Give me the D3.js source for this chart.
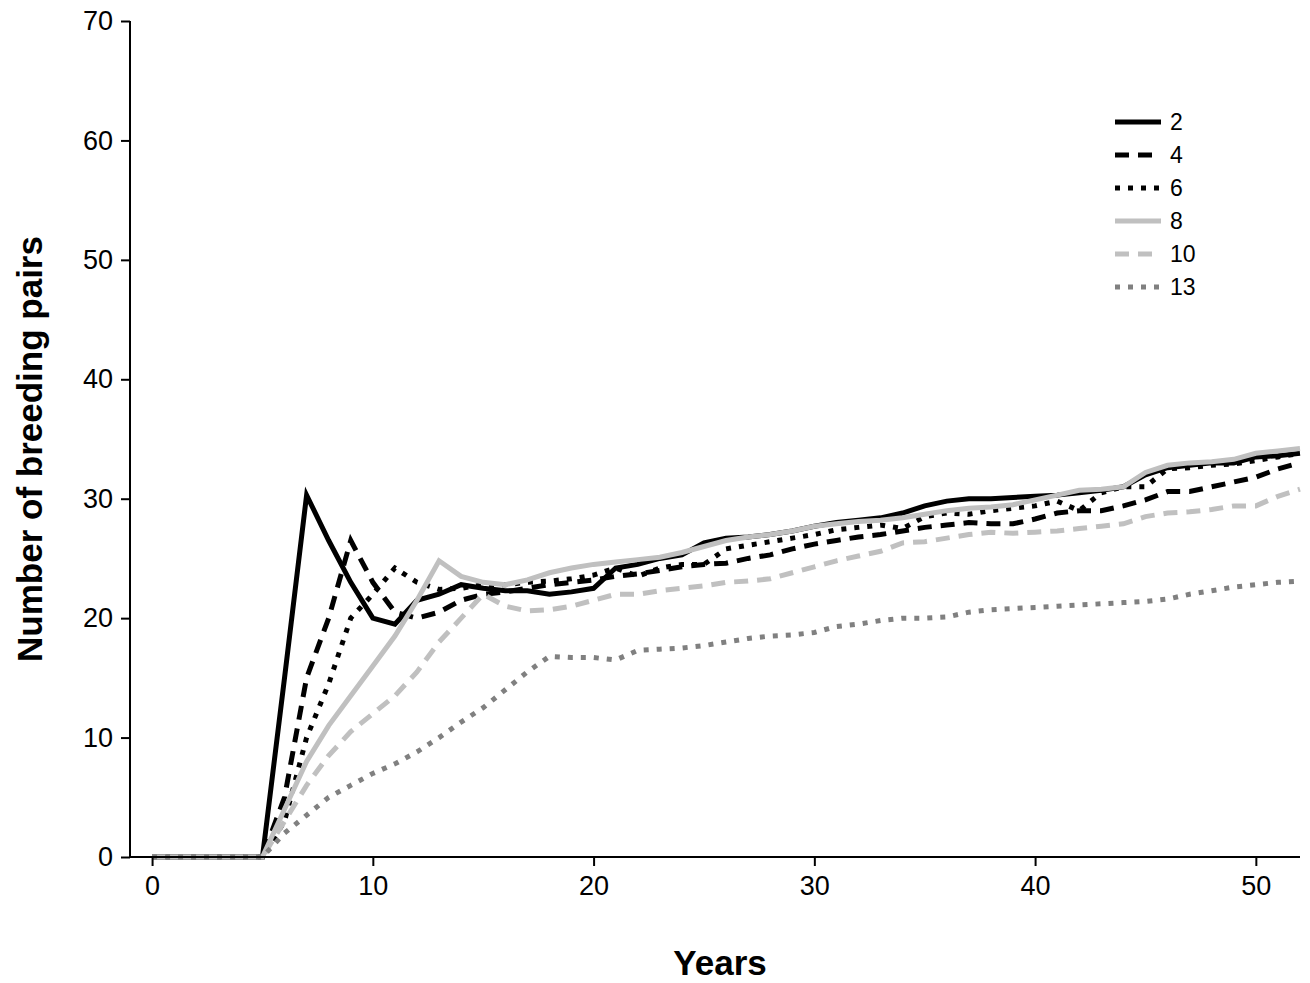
<!DOCTYPE html>
<html><head><meta charset="utf-8">
<script src="https://cdn.jsdelivr.net/npm/d3@7"></script>
<style>body{margin:0;background:#fff}svg{font-family:"Liberation Sans",Arial,sans-serif}</style>
</head><body><svg id="c" width="1310" height="983"></svg>
<script>
var years = d3.range(0, 53);
var z = [0,0,0,0,0,0];
var s2  = z.concat([15,30.3,26.5,23,20,19.5,21.5,22,22.8,22.5,22.3,22.3,22,22.2,22.5,24.2,24.5,25,25.3,26.3,26.7,26.8,27,27.3,27.7,28,28.2,28.4,28.8,29.4,29.8,30,30,30.1,30.2,30.3,30.5,30.7,31,32,32.6,32.8,33,33,33.5,33.6,33.8]);
var s4  = z.concat([5,15,20,26.5,23,20.5,20,20.5,21.5,22,22.2,22.5,22.8,23,23.2,23.5,23.7,24,24.3,24.5,24.6,25,25.3,25.8,26.2,26.5,26.8,27,27.3,27.6,27.8,28,27.9,27.9,28.3,28.8,29,29,29.4,29.9,30.6,30.6,31,31.4,31.8,32.5,33]);
var s6  = z.concat([3,10,14.5,20,22,24.2,23,22.4,22.5,22.8,22.8,23,23.1,23.3,23.6,24.2,23.5,24.2,24.5,24.5,25.8,26.1,26.4,26.7,27,27.4,27.6,27.8,27.5,28.5,28.8,28.7,29,29.2,29.4,29.8,29,30.5,31,31,32.5,32.6,32.8,32.9,33.2,33.5,33.8]);
var s8  = z.concat([4,8,11,13.5,16,18.5,21.5,24.8,23.5,23,22.8,23.2,23.8,24.2,24.5,24.7,24.9,25.1,25.5,26,26.5,26.8,27,27.3,27.7,27.9,28.1,28.2,28.4,28.7,29,29.2,29.3,29.5,29.9,30.3,30.7,30.8,31,32.2,32.8,33,33.1,33.3,33.8,34,34.2]);
var s10 = z.concat([3,6,8.5,10.5,12,13.5,15.5,18,20,22,21,20.6,20.7,21,21.5,22,22,22.3,22.5,22.7,23,23.1,23.3,23.8,24.3,24.8,25.2,25.6,26.3,26.4,26.7,27,27.2,27.1,27.2,27.3,27.5,27.7,27.9,28.5,28.8,28.9,29.1,29.4,29.4,30.2,30.8]);
var s13 = z.concat([2,3.5,5,6,7,7.8,8.8,10,11.3,12.5,14,15.5,16.8,16.7,16.7,16.5,17.3,17.4,17.5,17.7,18,18.3,18.5,18.6,18.8,19.3,19.5,19.8,20,20,20.1,20.5,20.7,20.8,20.9,21,21.1,21.2,21.3,21.4,21.6,22,22.3,22.6,22.8,23,23.1]);
var seriesNames = ["2","4","6","8","10","13"];
var seriesValues = [s2,s4,s6,s8,s10,s13];
var seriesColors = ["#000","#000","#000","#c0c0c0","#c0c0c0","#808080"];
var seriesDash = [null,"14,9","5,8",null,"14,9","5,8"];
var xTicks = [0,10,20,30,40,50];
var yTicks = [0,10,20,30,40,50,60,70];

var svg = d3.select("#c");
var L = 130, R = 1300, T = 21, B = 857;
var x = d3.scaleLinear().domain([-1, 52]).range([L, R]);
var y = d3.scaleLinear().domain([0, 70]).range([B, T]);

var line = d3.line().x(function(d, i) { return x(years[i]); }).y(function(d) { return y(d); });
seriesValues.forEach(function(v, k) {
  svg.append("path").datum(v)
    .attr("d", line).attr("fill", "none")
    .attr("stroke", seriesColors[k]).attr("stroke-width", 5)
    .attr("stroke-dasharray", seriesDash[k]);
});

var ya = svg.append("g").attr("transform", "translate(" + L + ",0)")
  .call(d3.axisLeft(y).tickValues(yTicks).tickSize(9).tickPadding(8));
var xa = svg.append("g").attr("transform", "translate(0," + B + ")")
  .call(d3.axisBottom(x).tickValues(xTicks).tickSize(9).tickPadding(10));
[ya, xa].forEach(function(a) {
  a.attr("font-size", 27).attr("font-family", null);
  a.selectAll("path,line").attr("stroke", "#000").attr("stroke-width", 2);
  a.selectAll("text").attr("fill", "#000");
  a.select(".domain").attr("d", a === ya ? "M0," + T + "V" + B : "M" + L + ",0H" + R);
});

svg.append("text").attr("x", (L + R) / 2 + 5).attr("y", 975).attr("text-anchor", "middle")
  .attr("font-size", 35).attr("font-weight", "bold").text("Years");
svg.append("text").attr("transform", "translate(42," + ((T + B) / 2 + 10) + ") rotate(-90)")
  .attr("text-anchor", "middle").attr("font-size", 35).attr("font-weight", "bold")
  .text("Number of breeding pairs");

var lg = svg.append("g").attr("transform", "translate(1115,122)");
seriesNames.forEach(function(n, k) {
  var g = lg.append("g").attr("transform", "translate(0," + k * 33 + ")");
  g.append("line").attr("x1", 0).attr("x2", 46).attr("stroke", seriesColors[k])
    .attr("stroke-width", 5).attr("stroke-dasharray", seriesDash[k]);
  g.append("text").attr("x", 55).attr("y", 8).attr("font-size", 23).text(n);
});
</script></body></html>
